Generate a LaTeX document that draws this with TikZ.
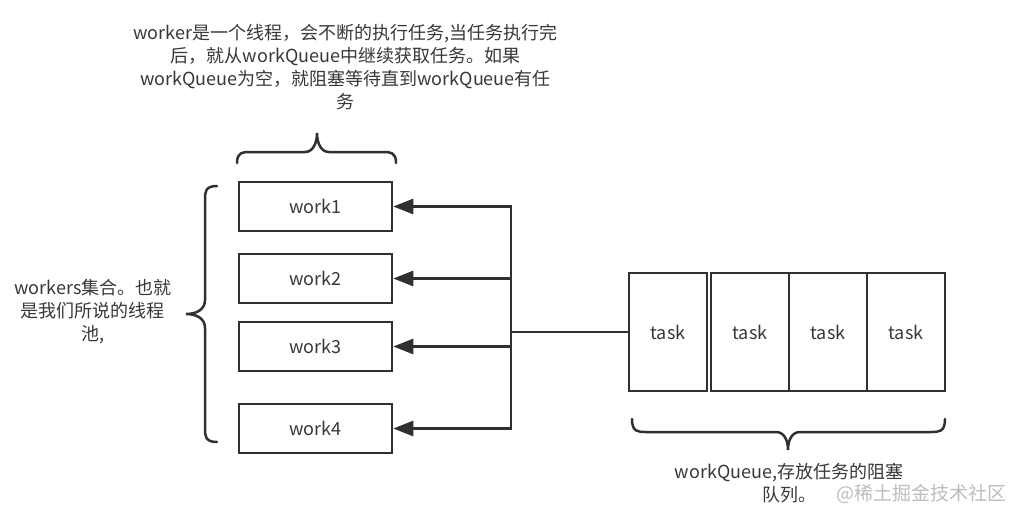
\documentclass[tikz,border=0pt]{standalone}
\usepackage{fontspec}
\setmainfont{Noto Sans CJK SC}
\usetikzlibrary{arrows.meta}
\definecolor{ink}{HTML}{303030}
\definecolor{txt}{HTML}{383838}
\definecolor{wm}{HTML}{BDBDBD}
\begin{document}
\begin{tikzpicture}[x=1pt,y=-1pt,
  box/.style={draw=ink,line width=2.5pt,fill=white,inner sep=0pt,font=\fontsize{18}{20}\selectfont,text=txt},
  wbox/.style={box,minimum width=153pt,minimum height=49pt},
  tbox/.style={box,minimum width=78pt,minimum height=118pt},
  conn/.style={draw=ink,line width=2.5pt},
  arr/.style={conn,-{Triangle[length=20pt,width=15pt]}},
  brace/.style={draw=ink,line width=2.5pt,line cap=round},
  note/.style={align=center,text=txt,font=\fontsize{18}{23}\selectfont}]
\useasboundingbox (0,0) rectangle (1015,512);
\fill[white] (0,0) rectangle (1015,512);

% worker boxes
\node[wbox] (w1) at (315.5,206.5) {work1};
\node[wbox] (w2) at (315.5,278.5) {work2};
\node[wbox] (w3) at (315.5,346.5) {work3};
\node[wbox] (w4) at (315.5,428.5) {work4};

% task boxes
\node[tbox] (t1) at (668,332) {task};
\node[tbox] (t2) at (750,332) {task};
\node[tbox] (t3) at (828,332) {task};
\node[tbox] (t4) at (906,332) {task};

% bus
\coordinate (bt) at (511,206.5);
\coordinate (bb) at (511,428.5);
\draw[conn] (t1.west) -- (t1.west -| bt);
\draw[conn,line cap=rect] (bt) -- (bb);
\draw[arr] (bt) -- (w1.east);
\draw[arr] (w2.east -| bt) -- (w2.east);
\draw[arr] (w3.east -| bt) -- (w3.east);
\draw[arr] (bb) -- (w4.east);

% braces
\draw[brace] (237,163) .. controls (237,152) and (243,152) .. (250,152) -- (305,152)
  .. controls (313,152) and (317,143) .. (317,133)
  .. controls (317,143) and (321,152) .. (329,152) -- (383,152)
  .. controls (390,152) and (396,152) .. (396,163);
\draw[brace] (217,186) .. controls (205,186) and (205,192) .. (205,200) -- (205,300)
  .. controls (205,310) and (196,314) .. (186,314)
  .. controls (196,314) and (205,318) .. (205,328) -- (205,428)
  .. controls (205,436) and (205,442) .. (217,442);
\draw[brace] (632,419) .. controls (632,432) and (638,432) .. (646,432) -- (776,432)
  .. controls (784,432) and (788,440) .. (788,450)
  .. controls (788,440) and (792,432) .. (800,432) -- (931,432)
  .. controls (939,432) and (945,432) .. (945,419);

% notes
\node[note] (n1) at (345.5,67) {worker是一个线程，会不断的执行任务,当任务执行完\\后，就从workQueue中继续获取任务。如果\\workQueue为空，就阻塞等待直到workQueue有任\\务};
\node[note] (n2) at (93,312) {workers集合。也就\\是我们所说的线程\\池,};
\node[note] (n3) at (789,483) {workQueue,存放任务的阻塞\\队列。};
\node[anchor=east,text=wm,font=\fontsize{19}{22}\selectfont] (wmk) at (1010,494) {@稀土掘金技术社区};
\end{tikzpicture}
\end{document}
